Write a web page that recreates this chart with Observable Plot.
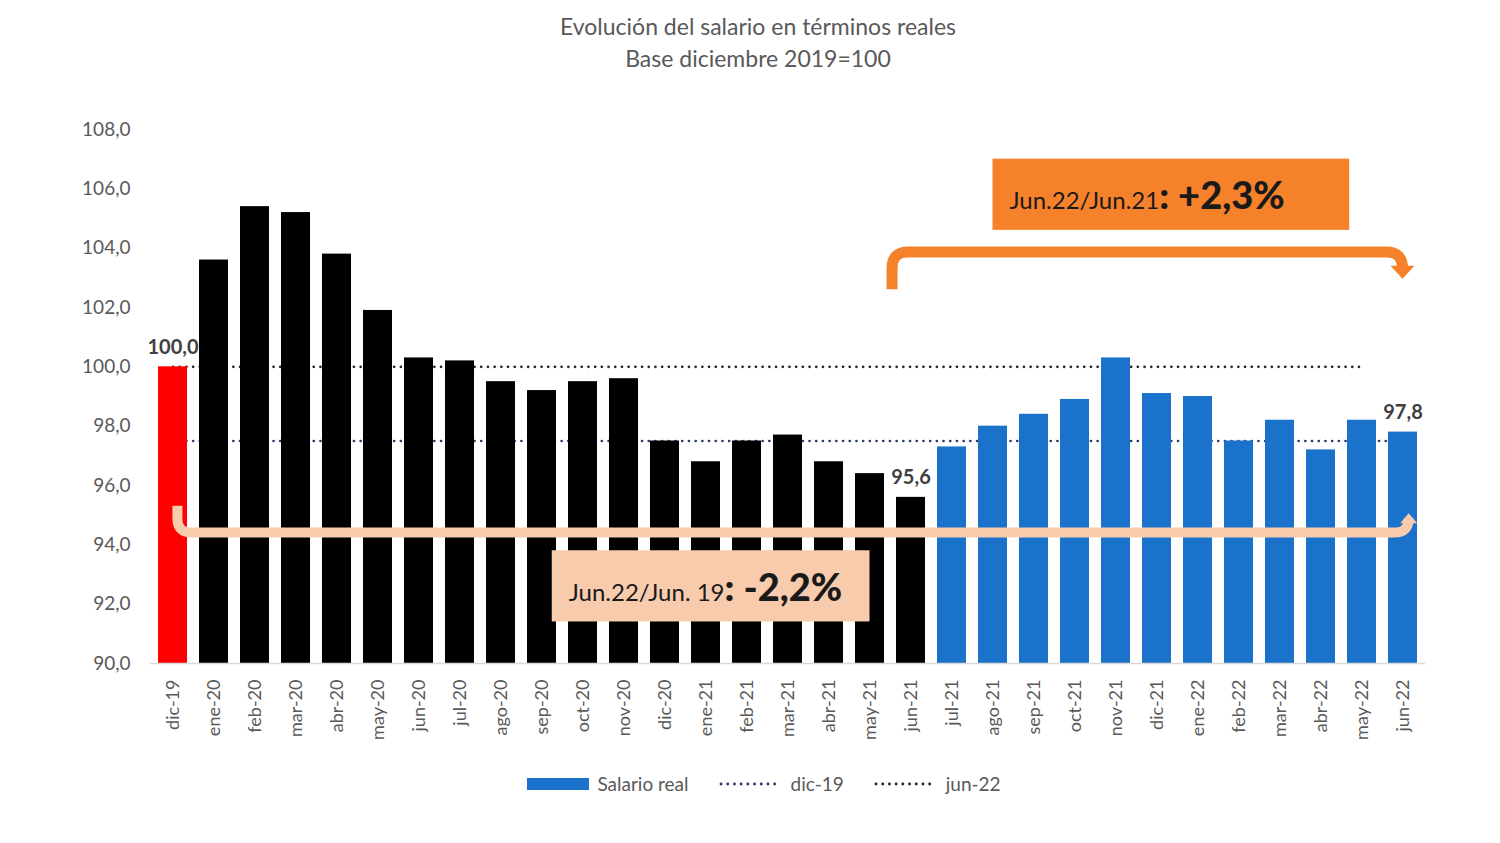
<!DOCTYPE html>
<html>
<head>
<meta charset="utf-8">
<script src="https://cdn.jsdelivr.net/npm/d3@7"></script>
<script src="https://cdn.jsdelivr.net/npm/@observablehq/plot@0.6"></script>
<style>
  html, body { margin: 0; padding: 0; background: #fff; }
  body { width: 1500px; height: 843px; overflow: hidden; font-family: Lato, "Open Sans", sans-serif; }
  #title { text-align: center; color: #595959; font-size: 23px; line-height: 32px; padding-top: 10px; height: 64px; margin-left: 16px; }
  #legend { display: flex; justify-content: center; align-items: center; color: #595959; font-size: 19px; padding-top: 19px; line-height: 22px; margin-left: 28px; }
  #legend .item { display: flex; align-items: center; margin: 0 15px; }
  #legend svg { margin-right: 8px; }
</style>
</head>
<body>
<div id="title">Evolución del salario en términos reales<br>Base diciembre 2019=100</div>
<div id="chart"></div>
<div id="legend"></div>
<script>
// ---- data ----
const months = ["dic-19","ene-20","feb-20","mar-20","abr-20","may-20","jun-20","jul-20","ago-20","sep-20","oct-20","nov-20","dic-20",
  "ene-21","feb-21","mar-21","abr-21","may-21","jun-21","jul-21","ago-21","sep-21","oct-21","nov-21","dic-21",
  "ene-22","feb-22","mar-22","abr-22","may-22","jun-22"];
const salarioReal = [100.0,103.6,105.4,105.2,103.8,101.9,100.3,100.2,99.5,99.2,99.5,99.6,97.5,
  96.8,97.5,97.7,96.8,96.4,95.6,97.3,98.0,98.4,98.9,100.3,99.1,
  99.0,97.5,98.2,97.2,98.2,97.8];
const periodo = ["base","pre","pre","pre","pre","pre","pre","pre","pre","pre","pre","pre","pre",
  "pre","pre","pre","pre","pre","pre","post","post","post","post","post","post",
  "post","post","post","post","post","post"];
const labeledMonths = ["dic-19","jun-21","jun-22"];
const yTicks = [90,92,94,96,98,100,102,104,106,108];
const yDomain = [90,108];
// reference dotted lines
const refLines = [
  {name:"jun-22", value:100.0, from:"dic-19", to:"may-22"},
  {name:"dic-19", value:97.5, from:"dic-19", to:"jun-22"}
];
// annotations
const annotUp = {label:"Jun.22/Jun.21", value:": +2,3%", from:"jun-21", to:"jun-22", yStart:102.6, yLevel:103.85, yTip:102.95,
  boxFrom:"ago-21", boxTo:"abr-22", boxY1:104.6, boxY2:107.0};
const annotDown = {label:"Jun.22/Jun. 19", value:": -2,2%", from:"dic-19", to:"jun-22", yStart:95.3, yLevel:94.4, yTip:95.05,
  boxFrom:"sep-20", boxTo:"may-21", boxY1:91.4, boxY2:93.8};

// ---- styles ----
const fillColors = {base:"#FF0000", pre:"#000000", post:"#1B72CA"};
const lineColors = {"jun-22":"#262626", "dic-19":"#2B3A67"};
const orange = "#F6812B", peach = "#F8CBAD";

const data = months.map((m,i) => ({month:m, value:salarioReal[i], periodo:periodo[i]}));
const labeled = data.filter(d => labeledMonths.includes(d.month));
const lineData = refLines.flatMap(r => [{name:r.name, month:r.from, value:r.value},{name:r.name, month:r.to, value:r.value}]);

const fmt = v => v.toFixed(1).replace(".", ",");

const plot = Plot.plot({
  width: 1500,
  height: 680,
  marginLeft: 150,
  marginRight: 75,
  marginTop: 55,
  marginBottom: 91,
  style: {fontFamily: "Lato, 'Open Sans', sans-serif", background: "transparent"},
  x: {domain: months, paddingInner: 0.3, paddingOuter: 0.15, label: null, tickSize: 0, tickPadding: 16, tickRotate: -90},
  y: {domain: yDomain, ticks: yTicks, tickFormat: fmt, label: null, tickSize: 0, tickPadding: 20},
  marks: [
    Plot.text(labeled, {x:"month", y:"value", text: d => fmt(d.value), dy: -13, lineAnchor: "bottom", fontSize: 20, fontWeight: "bold", fill: "#404040"}),
    Plot.line(lineData, {x:"month", y:"value", z:"name", stroke: d => lineColors[d.name], strokeWidth: 2.6, strokeDasharray: "0.1,6.6", strokeLinecap: "round"}),
    Plot.barY(data, {x:"month", y1: yDomain[0], y2:"value", fill: d => fillColors[d.periodo]}),
    Plot.ruleY([yDomain[0]], {stroke:"#D9D9D9", strokeWidth: 1.5})
  ]
});

// style axis text
d3.select(plot).selectAll("g[aria-label='y-axis tick label']").attr("font-size", 19).attr("fill", "#595959");
d3.select(plot).selectAll("g[aria-label='x-axis tick label']").attr("font-size", 18).attr("fill", "#595959");
document.getElementById("chart").appendChild(plot);

// ---- annotations through the plot's own scales ----
const xs = plot.scale("x"), ys = plot.scale("y");
const step = xs.apply(months[1]) - xs.apply(months[0]);
const bw = xs.bandwidth ?? step * 0.7;
const xc = (m, off=0) => xs.apply(m) + bw/2 + off*step;
const Y = v => ys.apply(v);
const svg = d3.select(plot);

function bracket(a, color, sw, r, offStart, offEnd, headW, headL) {
  const x0 = xc(a.from, offStart), x1 = xc(a.to, offEnd);
  const y0 = Y(a.yStart), yl = Y(a.yLevel), yt = Y(a.yTip);
  const dir = Math.sign(y0 - yl);
  const tipDir = Math.sign(yt - yl);
  const yHeadBase = yt - tipDir*headL;
  const p = d3.path();
  p.moveTo(x0, y0);
  p.lineTo(x0, yl + dir*r);
  p.quadraticCurveTo(x0, yl, x0 + r, yl);
  p.lineTo(x1 - r, yl);
  p.quadraticCurveTo(x1, yl, x1, yl + tipDir*r);
  p.lineTo(x1, yHeadBase);
  svg.append("path").attr("d", p.toString()).attr("fill","none").attr("stroke",color).attr("stroke-width",sw);
  svg.append("path")
    .attr("d", `M${x1-headW/2},${yHeadBase}L${x1+headW/2},${yHeadBase}L${x1},${yt}Z`)
    .attr("fill", color);
}
bracket(annotUp, orange, 11, 16, -0.45, 0, 24, 13);
bracket(annotDown, peach, 10, 14, 0.12, 0.15, 17, 10);

function box(a, color, offFrom, offTo, fs1, fs2) {
  const x0 = xc(a.boxFrom, offFrom), x1 = xc(a.boxTo, offTo);
  const y1 = Y(a.boxY2), y2 = Y(a.boxY1);
  svg.append("rect").attr("x", x0).attr("y", y1).attr("width", x1-x0).attr("height", y2-y1).attr("fill", color);
  const t = svg.append("text").attr("x", x0 + 17).attr("y", y1 + (y2-y1)*0.71)
    .attr("text-anchor", "start")
    .attr("fill", "#1a1a1a").attr("font-family", "Lato, 'Open Sans', sans-serif");
  t.append("tspan").attr("font-size", fs1).text(a.label);
  t.append("tspan").attr("font-size", fs2).attr("font-weight", "900").text(a.value);
}
box(annotUp, orange, 0, 0.7, 24, 38);
box(annotDown, peach, 0.25, 0, 24, 38);

// ---- legend ----
const legend = d3.select("#legend");
const i1 = legend.append("div").attr("class","item");
i1.append("svg").attr("width",62).attr("height",12).append("rect").attr("width",62).attr("height",12).attr("fill",fillColors.post);
i1.append("span").text("Salario real");
refLines.slice().reverse().forEach(r => {
  const it = legend.append("div").attr("class","item");
  it.append("svg").attr("width",62).attr("height",12).attr("style","margin-right:10px")
    .append("line").attr("x1",2).attr("x2",60).attr("y1",6).attr("y2",6)
    .attr("stroke", lineColors[r.name]).attr("stroke-width",2.8).attr("stroke-dasharray","0.1,6.6").attr("stroke-linecap","round");
  it.append("span").text(r.name);
});
</script>
</body>
</html>
